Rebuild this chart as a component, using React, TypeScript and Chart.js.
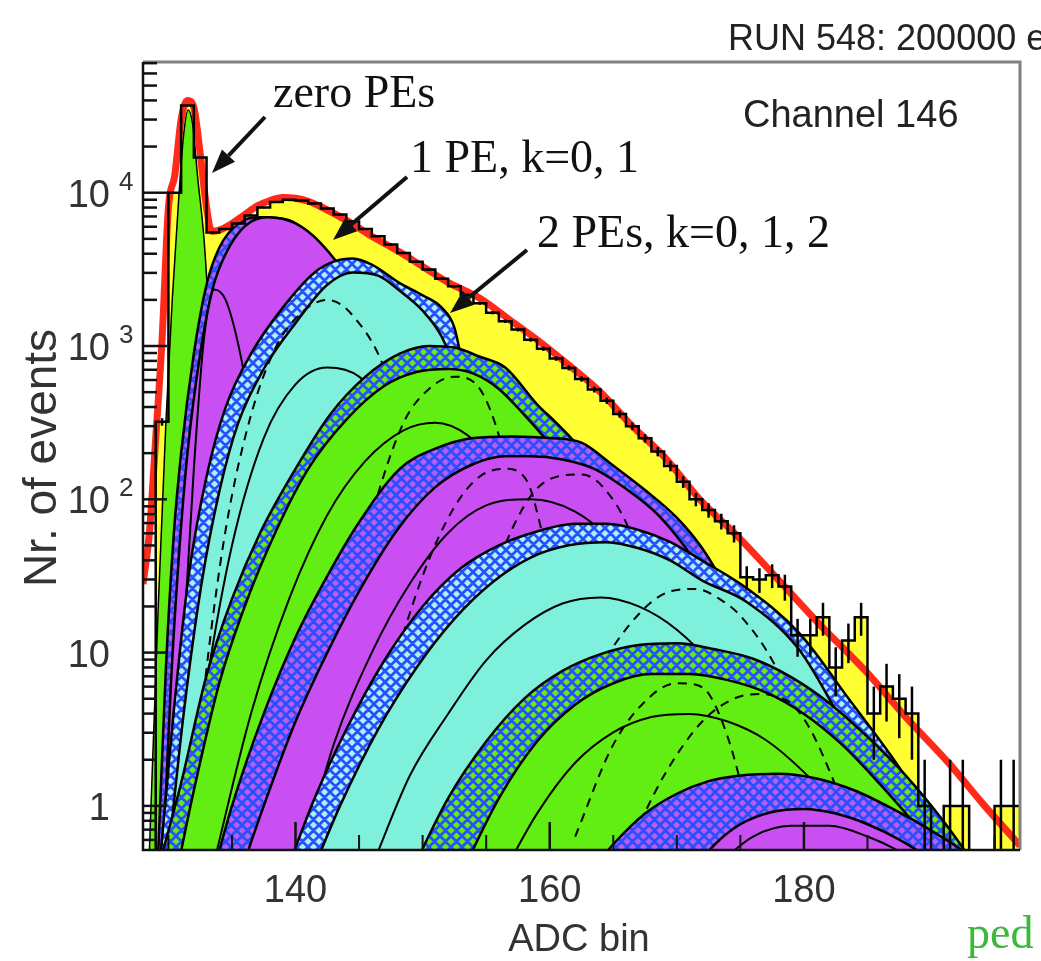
import React, { useEffect, useRef } from 'react';
import { Chart, registerables } from 'chart.js';

Chart.register(...registerables);

const SANS = '"Liberation Sans", Arial, Helvetica, sans-serif';
const SERIF = '"Liberation Serif", "Times New Roman", Times, serif';

// ---------------- axes ----------------
const X_MIN = 128;
const X_MAX = 197;
const Y_MIN = 0.5155;
const Y_MAX = 71240;
const xTickValues = [140, 160, 180];
const xMinorTicks = [130, 135, 145, 150, 155, 165, 170, 175, 185, 190, 195];
const yDecades = [1, 10, 100, 1000, 10000];

// ---------------- measured histogram (bins 128 ... 196) ----------------
const binLow = 128;
const binCounts = [
  0, 320, 10000, 37000, 17000, 5500, 5800, 6300, 7100, 8000,
  8700, 9000, 8900, 8500, 7900, 7200, 6500, 5800, 5200, 4600,
  4050, 3550, 3150, 2750, 2450, 2150, 1900, 1650, 1450, 1280,
  1100, 960, 830, 720, 610, 520, 440, 360, 300, 250,
  205, 165, 130, 100, 85, 72, 60, 31, 30, 32,
  27, 13, 13, 17, 8, 12, 17, 4, 6, 5,
  4, 1, 0, 1, 1, 0, 0, 1, 1,
];

// ---------------- total fit (red) ----------------
const fitX = [128.0, 128.5, 129.0, 129.5, 130.0, 130.5, 131.0, 131.5, 132.0, 132.5, 133.0, 133.4, 134.0, 135.0, 136.0, 137.0, 138.0, 139.0, 140.0, 141.0, 142.0, 144.0, 146.0, 148.2, 150.0, 152.0, 154.5, 157.0, 159.0, 161.3, 164.0, 166.5, 169.0, 171.8, 175.0, 178.3, 181.0, 184.9, 188.0, 191.4, 194.0, 197.0];
const fitY = [28, 60, 250, 1100, 8000, 13000, 30000, 40000, 36000, 18000, 8000, 5600, 5700, 6300, 7200, 8200, 8900, 9300, 9200, 8800, 8100, 6600, 5200, 4100, 3300, 2600, 2050, 1450, 1100, 775, 500, 300, 190, 100, 55, 28, 16, 7.5, 3.8, 1.9, 1.05, 0.55];

// ---------------- pedestal (zero PEs) ----------------
const pedX = [128.5, 129.2, 129.8, 130.3, 130.8, 131.2, 131.55, 131.9, 132.3, 132.8, 133.1, 133.5, 134.0, 134.6, 135.2];
const pedY = [0.5, 20, 316, 2000, 8900, 24000, 34700, 28200, 12600, 5000, 2000, 300, 30, 1, 0.3];

// ---------------- 1 PE ----------------
const m1BandX = [129.2, 129.8, 130.4, 131.0, 132.0, 133.0, 134.0, 135.5, 137.3, 139.5, 141.5, 143.5, 145.5, 147.5, 149.5, 152.0, 155.0];
const m1BandY = [0.5, 7.9, 56, 200, 891, 2510, 4370, 6310, 6920, 6610, 5010, 3160, 1410, 447, 100, 10, 0.4];
const m1FillX = [129.6, 130.2, 130.8, 131.5, 132.5, 133.5, 134.5, 136.0, 137.8, 140.0, 142.0, 144.0, 146.0, 148.0, 150.0, 152.5, 155.5];
const m1FillY = [0.5, 6.3, 40, 200, 891, 2400, 3980, 6030, 6920, 6310, 4680, 2820, 1200, 355, 79, 7.9, 0.4];
const m1ArcX = [131.0, 132.0, 132.8, 133.6, 134.5, 135.6, 136.8, 138.0, 139.5];
const m1ArcY = [6.3, 158, 1120, 2340, 2000, 933, 251, 40, 2.5];

// ---------------- 2 PE ----------------
const c1BandX = [129.3, 130.4, 131.6, 133.0, 134.5, 136.5, 139.0, 141.5, 143.0, 144.5, 146.0, 148.2, 150.0, 151.5, 152.5, 153.2, 154.2, 155.5, 157.5, 160.0, 162.5];
const c1BandY = [0.4, 4, 32, 141, 398, 891, 1780, 3020, 3550, 3720, 3390, 2570, 2140, 1780, 1320, 708, 282, 89, 15.8, 2, 0.25];
const c1FillX = [129.9, 131.2, 132.6, 134.0, 135.5, 137.5, 140.0, 142.5, 144.5, 146.5, 148.2, 150.0, 151.5, 152.5, 153.5, 155.0, 157.0, 159.5, 162.0];
const c1FillY = [0.4, 4, 28, 112, 316, 708, 1410, 2510, 3020, 2880, 2290, 1700, 1150, 708, 282, 79, 15.8, 2, 0.25];
const c1ArcX = [131.0, 133.0, 135.0, 137.5, 140.0, 142.5, 145.0, 147.5, 150.0, 152.5, 155.0];
const c1ArcY = [0.4, 6.3, 50, 251, 562, 724, 631, 355, 126, 25, 3.2];
const c1DashX = [131.5, 133.0, 134.5, 136.5, 138.5, 140.5, 142.5, 144.5, 147.2, 149.8, 151.5, 153.0];
const c1DashY = [0.5, 7.9, 63, 355, 1000, 1660, 2000, 1580, 631, 79, 12.6, 2];

// ---------------- 3 PE ----------------
const g1BandX = [129.4, 131.0, 133.0, 135.0, 137.2, 140.0, 142.7, 145.5, 148.2, 150.5, 152.5, 154.5, 156.5, 159.0, 160.5, 162.0, 163.5, 165.0, 167.0, 169.0, 171.5, 174.0, 176.5];
const g1BandY = [0.45, 1.41, 7.1, 22.4, 60, 158, 355, 631, 891, 1000, 977, 851, 724, 417, 316, 234, 158, 89, 40, 15.8, 4, 0.8, 0.25];
const g1FillX = [130.5, 132.0, 134.0, 136.0, 138.5, 141.0, 144.0, 147.0, 149.5, 152.0, 154.0, 156.0, 158.0, 160.0, 162.0, 164.0, 166.0, 168.0, 170.5, 173.0, 176.0];
const g1FillY = [0.32, 1.26, 6.3, 20, 63, 158, 331, 550, 676, 708, 661, 525, 355, 229, 138, 72, 31.6, 12.6, 3.16, 0.8, 0.14];
const g1ArcX = [133.5, 136.5, 139.5, 142.5, 145.5, 148.5, 151.0, 153.5, 156.0, 158.5, 161.0, 163.5, 166.0];
const g1ArcY = [0.4, 4, 22.4, 79, 178, 282, 316, 263, 158, 70.8, 20, 4, 0.63];
const g1DashX = [140, 143, 146, 148.5, 150.5, 152.5, 154.5, 156.1, 158, 160, 162];
const g1DashY = [0.63, 7.9, 79, 316, 525, 631, 525, 245, 50, 6.3, 0.63];

// ---------------- 4 PE ----------------
const m2BandX = [133.0, 135.0, 137.5, 140.0, 142.5, 145.0, 148.2, 151.0, 154.0, 157.0, 160.0, 162.5, 165.0, 167.5, 170.0, 172.0, 174.0, 176.0, 178.5, 181.0, 183.0];
const m2BandY = [0.25, 1, 4, 12.6, 31.6, 70.8, 158, 214, 251, 257, 251, 234, 166, 115, 75.9, 47.9, 25.1, 11.2, 3.55, 0.89, 0.32];
const m2FillX = [135.0, 137.5, 140.0, 142.5, 145.0, 148.0, 151.0, 154.0, 156.5, 158.5, 161.0, 163.5, 166.0, 168.5, 171.0, 173.5, 176.0, 179.0, 182.0];
const m2FillY = [0.25, 1, 3.55, 10, 25.1, 63.1, 120, 170, 191, 191, 182, 158, 117, 79.4, 44.7, 22.4, 8.91, 2.24, 0.45];
const m2ArcX = [140, 143, 146, 149, 152, 155, 158.5, 162, 165, 168, 171, 174];
const m2ArcY = [0.32, 2.51, 10, 28.2, 60.3, 91.2, 100, 83.2, 52.5, 25.1, 8.91, 2];
const m2DashAX = [144, 147, 150, 152.5, 154.5, 156.5, 158.2, 159.5, 161, 163, 165];
const m2DashAY = [0.5, 5, 31.6, 89.1, 141, 158, 132, 56.2, 15.8, 2.51, 0.4];
const m2DashBX = [150, 153, 156, 158.5, 160.5, 162.5, 164.2, 166.5, 168.5, 170.5, 172.5];
const m2DashBY = [0.5, 6.3, 39.8, 105, 140, 145, 120, 56.2, 14.1, 2.51, 0.4];

// ---------------- 5 PE ----------------
const c2BandX = [139.0, 141.5, 144.0, 147.0, 150.0, 153.0, 156.0, 159.0, 162.0, 164.5, 167.0, 169.5, 172.0, 175.5, 179.6, 183.6, 187.5, 191.0, 194.0];
const c2BandY = [0.32, 1.12, 3.16, 8.91, 20, 35.5, 50.1, 61.7, 69.2, 69.2, 63.1, 52.5, 39.8, 26.3, 13.5, 4.9, 1.78, 0.63, 0.25];
const c2FillX = [141.0, 143.5, 146.5, 149.5, 152.5, 155.5, 158.5, 161.5, 164.5, 167.0, 169.5, 172.0, 175.5, 179.6, 183.0, 186.0, 189.0];
const c2FillY = [0.32, 1, 3.16, 7.94, 16.6, 28.8, 41.7, 50.1, 52.5, 47.9, 39.8, 29.5, 21.4, 10.5, 3.55, 1.32, 0.45];
const c2ArcX = [146, 149, 152, 155, 158, 161, 164, 167, 170, 173, 176, 179];
const c2ArcY = [0.4, 1.58, 3.98, 8.91, 15.1, 20.9, 22.9, 20, 14.1, 7.94, 3.55, 1.26];
const c2DashX = [158, 161, 164, 167, 169.5, 171.5, 173.5, 175.1, 177.8, 180, 182];
const c2DashY = [0.4, 2.24, 7.94, 17.8, 25.1, 26, 22, 17, 8, 2.82, 0.79];

// ---------------- 6 PE ----------------
const g2BandX = [149.0, 152.0, 155.0, 158.0, 161.0, 164.0, 167.0, 170.0, 173.0, 176.0, 179.0, 182.0, 185.0, 188.0, 191.0, 194.0];
const g2BandY = [0.355, 1.12, 2.63, 5.01, 7.59, 9.77, 11.2, 11.5, 10.5, 9.12, 6.92, 4.68, 2.82, 1.58, 0.79, 0.355];
const g2FillX = [153.0, 156.0, 159.0, 162.0, 165.0, 168.0, 171.0, 174.0, 177.0, 180.0, 183.0, 186.0, 189.0, 192.0, 195.0];
const g2FillY = [0.355, 1.12, 2.63, 4.57, 6.31, 7.24, 7.24, 6.61, 5.5, 3.98, 2.51, 1.38, 0.71, 0.32, 0.126];
const g2ArcX = [156, 159, 162, 165, 168, 171, 174, 177, 180, 183, 186];
const g2ArcY = [0.32, 0.89, 1.91, 3.02, 3.8, 3.98, 3.55, 2.69, 1.66, 0.89, 0.4];
const g2DashAX = [166, 169, 172, 174.5, 176.5, 178, 179.1, 180.5, 182.2, 184];
const g2DashAY = [0.5, 1.58, 3.55, 5.01, 5.37, 5.13, 4.57, 3.16, 1.55, 0.63];
const g2DashBX = [162, 165, 168, 170, 171.5, 172.6, 174, 174.9, 176.5];
const g2DashBY = [0.63, 2.51, 5.25, 6.31, 6.17, 5.25, 2.82, 1.55, 0.4];

// ---------------- 7 PE ----------------
const m3BandX = [163.0, 165.0, 167.5, 170.0, 172.5, 175.0, 178.0, 181.0, 184.0, 187.0, 190.0, 193.0, 196.0];
const m3BandY = [0.355, 0.562, 0.891, 1.2, 1.45, 1.58, 1.62, 1.51, 1.26, 0.955, 0.692, 0.479, 0.316];
const m3FillX = [171.0, 173.0, 175.0, 177.5, 180.0, 182.5, 185.0, 187.5, 190.0, 192.5];
const m3FillY = [0.355, 0.562, 0.759, 0.912, 0.955, 0.891, 0.759, 0.603, 0.447, 0.316];
const m3ArcX = [173, 176, 179, 182, 185, 188, 191];
const m3ArcY = [0.4, 0.631, 0.741, 0.741, 0.631, 0.479, 0.316];

// ---------------- colours ----------------
const MAGENTA = '#c94ff2';
const CYAN = '#7ff0dc';
const GREEN = '#62ee12';
const YELLOW = '#ffff33';
const RED = '#ff2a1a';
const HATCH = '#2a4fff';

function makeHatch(bg: string, fg: string): CanvasPattern | string {
  const s = 11;
  const c = document.createElement('canvas');
  c.width = s;
  c.height = s;
  const g = c.getContext('2d');
  if (!g) return bg;
  g.fillStyle = bg;
  g.fillRect(0, 0, s, s);
  g.strokeStyle = fg;
  g.lineWidth = 2.8;
  g.beginPath();
  for (let k = -1; k <= 1; k++) {
    g.moveTo(-2 + k * s, -2);
    g.lineTo(s + 2 + k * s, s + 2);
    g.moveTo(-2 + k * s, s + 2);
    g.lineTo(s + 2 + k * s, -2);
  }
  g.stroke();
  return g.createPattern(c, 'repeat') || bg;
}

function pts(xs: number[], ys: number[]) {
  return xs.map((x, i) => ({ x, y: ys[i] }));
}

function area(xs: number[], ys: number[], bg: any, bw = 2.5) {
  return {
    data: pts(xs, ys),
    fill: 'start',
    backgroundColor: bg,
    borderColor: '#000',
    borderWidth: bw,
    cubicInterpolationMode: 'monotone',
    pointRadius: 0,
    clip: 0,
  };
}

function curve(xs: number[], ys: number[], dashed = false, color = '#000', width = 2) {
  return {
    data: pts(xs, ys),
    fill: false,
    borderColor: color,
    borderWidth: width,
    borderDash: dashed ? [9, 7] : [],
    cubicInterpolationMode: 'monotone',
    pointRadius: 0,
    clip: 0,
  };
}

function drawArrow(ctx: CanvasRenderingContext2D, x1: number, y1: number, x2: number, y2: number) {
  const ang = Math.atan2(y2 - y1, x2 - x1);
  const hl = 24;
  const hw = 9;
  const bx = x2 - hl * Math.cos(ang);
  const by = y2 - hl * Math.sin(ang);
  ctx.strokeStyle = '#111';
  ctx.fillStyle = '#111';
  ctx.lineWidth = 4;
  ctx.beginPath();
  ctx.moveTo(x1, y1);
  ctx.lineTo(bx, by);
  ctx.stroke();
  ctx.beginPath();
  ctx.moveTo(x2, y2);
  ctx.lineTo(bx + hw * Math.sin(ang), by - hw * Math.cos(ang));
  ctx.lineTo(bx - hw * Math.sin(ang), by + hw * Math.cos(ang));
  ctx.closePath();
  ctx.fill();
}

const decorPlugin = {
  id: 'decor',
  afterDatasetsDraw(chart: any) {
    const { ctx, chartArea: a } = chart;
    const xs = chart.scales.x;
    const ys = chart.scales.y;
    ctx.save();
    ctx.beginPath();
    ctx.rect(a.left, a.top, a.right - a.left, a.bottom - a.top);
    ctx.clip();
    ctx.strokeStyle = '#000';
    ctx.lineWidth = 2.5;
    binCounts.forEach((n, i) => {
      if (n < 1) return;
      const s = Math.sqrt(n);
      const px = xs.getPixelForValue(binLow + i + 0.5);
      const lo = n - s > 0 ? n - s : 0.01;
      ctx.beginPath();
      ctx.moveTo(px, ys.getPixelForValue(lo));
      ctx.lineTo(px, ys.getPixelForValue(n + s));
      ctx.stroke();
    });
    ctx.restore();
  },
  afterDraw(chart: any) {
    const { ctx, chartArea: a } = chart;
    const xs = chart.scales.x;
    const ys = chart.scales.y;
    ctx.save();
    // frame
    ctx.strokeStyle = '#808080';
    ctx.lineWidth = 3;
    ctx.beginPath();
    ctx.moveTo(a.left, a.top);
    ctx.lineTo(a.right, a.top);
    ctx.lineTo(a.right, a.bottom);
    ctx.stroke();
    ctx.strokeStyle = '#111';
    ctx.lineWidth = 2.5;
    ctx.beginPath();
    ctx.moveTo(a.left, a.top);
    ctx.lineTo(a.left, a.bottom);
    ctx.lineTo(a.right, a.bottom);
    ctx.stroke();
    // y tick marks
    ctx.lineWidth = 2.5;
    for (let e = -1; e <= 5; e++) {
      for (let m = 1; m <= 9; m++) {
        const v = m * Math.pow(10, e);
        if (v < Y_MIN || v > Y_MAX) continue;
        const py = ys.getPixelForValue(v);
        const len = m === 1 ? 24 : 14;
        ctx.beginPath();
        ctx.moveTo(a.left, py);
        ctx.lineTo(a.left + len, py);
        ctx.stroke();
      }
    }
    // x tick marks
    xTickValues.forEach((v) => {
      const px = xs.getPixelForValue(v);
      ctx.beginPath();
      ctx.moveTo(px, a.bottom);
      ctx.lineTo(px, a.bottom - 28);
      ctx.stroke();
    });
    ctx.lineWidth = 2;
    xMinorTicks.forEach((v) => {
      const px = xs.getPixelForValue(v);
      ctx.beginPath();
      ctx.moveTo(px, a.bottom);
      ctx.lineTo(px, a.bottom - 15);
      ctx.stroke();
    });
    // y labels
    ctx.fillStyle = '#333';
    yDecades.forEach((v) => {
      const py = ys.getPixelForValue(v);
      const e = Math.round(Math.log10(v));
      ctx.font = `38px ${SANS}`;
      ctx.textAlign = 'right';
      ctx.textBaseline = 'alphabetic';
      ctx.fillText(e === 0 ? '1' : '10', 110, py + 14);
      if (e >= 2) {
        ctx.font = `26px ${SANS}`;
        ctx.textAlign = 'left';
        ctx.fillText(String(e), 119, py - 3);
      }
    });
    // axis titles
    ctx.font = `38px ${SANS}`;
    ctx.textAlign = 'center';
    ctx.fillText('ADC bin', 579, 951);
    ctx.save();
    ctx.translate(56, 458);
    ctx.rotate(-Math.PI / 2);
    ctx.font = `46px ${SANS}`;
    ctx.fillText('Nr. of events', 0, 0);
    ctx.restore();
    // header texts
    ctx.textAlign = 'left';
    ctx.fillStyle = '#222';
    ctx.font = `36px ${SANS}`;
    ctx.fillText('RUN 548: 200000 events', 728, 50);
    ctx.font = `38px ${SANS}`;
    ctx.fillText('Channel 146', 743, 127);
    // annotations
    ctx.fillStyle = '#111';
    ctx.font = `46px ${SERIF}`;
    ctx.fillText('zero PEs', 273, 107);
    ctx.fillText('1 PE, k=0, 1', 410, 172);
    ctx.fillText('2 PEs, k=0, 1, 2', 537, 247);
    ctx.fillStyle = '#3db83d';
    ctx.fillText('ped', 967, 948);
    drawArrow(ctx, 265, 117, 212, 173);
    drawArrow(ctx, 407, 177, 333, 240);
    drawArrow(ctx, 527, 250, 450, 313);
    ctx.restore();
  },
};

export default function App() {
  const ref = useRef<HTMLCanvasElement | null>(null);

  useEffect(() => {
    if (!ref.current) return;
    const hatchCyan = makeHatch('#aaf2f6', HATCH);
    const hatchGreen = makeHatch(GREEN, HATCH);
    const hatchMagenta = makeHatch('#b85cf4', HATCH);

    const histPts = binCounts.map((n, i) => ({ x: binLow + i, y: n > 0 ? n : 0.02 }));
    histPts.push({ x: binLow + binCounts.length, y: binCounts[binCounts.length - 1] });

    const layers: any[] = [
      { data: histPts, stepped: true, fill: 'start', backgroundColor: YELLOW, borderWidth: 0, borderColor: 'rgba(0,0,0,0)', pointRadius: 0, clip: 0 },
      area(pedX, pedY, GREEN, 1.5),
      area(m1BandX, m1BandY, hatchMagenta),
      area(m1FillX, m1FillY, MAGENTA),
      curve(m1ArcX, m1ArcY),
      area(c1BandX, c1BandY, hatchCyan),
      area(c1FillX, c1FillY, CYAN),
      curve(c1ArcX, c1ArcY),
      curve(c1DashX, c1DashY, true),
      area(g1BandX, g1BandY, hatchGreen),
      area(g1FillX, g1FillY, GREEN),
      curve(g1ArcX, g1ArcY),
      curve(g1DashX, g1DashY, true),
      area(m2BandX, m2BandY, hatchMagenta),
      area(m2FillX, m2FillY, MAGENTA),
      curve(m2ArcX, m2ArcY),
      curve(m2DashAX, m2DashAY, true),
      curve(m2DashBX, m2DashBY, true),
      area(c2BandX, c2BandY, hatchCyan),
      area(c2FillX, c2FillY, CYAN),
      curve(c2ArcX, c2ArcY),
      curve(c2DashX, c2DashY, true),
      area(g2BandX, g2BandY, hatchGreen),
      area(g2FillX, g2FillY, GREEN),
      curve(g2ArcX, g2ArcY),
      curve(g2DashAX, g2DashAY, true),
      curve(g2DashBX, g2DashBY, true),
      area(m3BandX, m3BandY, hatchMagenta),
      area(m3FillX, m3FillY, MAGENTA),
      curve(m3ArcX, m3ArcY),
      curve(fitX, fitY, false, RED, 7),
      { data: histPts, stepped: true, fill: false, borderColor: '#000', borderWidth: 2.5, pointRadius: 0, clip: 0 },
    ];
    const n = layers.length;
    const datasets = layers.map((d, i) => ({ ...d, order: n - i }));

    const chart = new Chart(ref.current, {
      type: 'line',
      data: { datasets },
      options: {
        responsive: false,
        maintainAspectRatio: false,
        animation: false,
        devicePixelRatio: 1,
        layout: { padding: { left: 0, right: 21, top: 62, bottom: 0 } },
        plugins: {
          legend: { display: false },
          tooltip: { enabled: false },
        },
        elements: { point: { radius: 0 } },
        scales: {
          x: {
            type: 'linear',
            min: X_MIN,
            max: X_MAX,
            grid: { display: false },
            border: { display: false },
            afterFit: (s: any) => {
              s.height = 111;
            },
            afterBuildTicks: (s: any) => {
              s.ticks = xTickValues.map((v) => ({ value: v }));
            },
            ticks: {
              autoSkip: false,
              maxRotation: 0,
              padding: 11,
              color: '#333',
              font: { family: SANS, size: 38 },
              callback: (v: any) => String(v),
            },
          },
          y: {
            type: 'logarithmic',
            min: Y_MIN,
            max: Y_MAX,
            grid: { display: false },
            border: { display: false },
            ticks: { display: false },
            afterFit: (s: any) => {
              s.width = 143;
            },
          },
        },
      } as any,
      plugins: [decorPlugin],
    });
    return () => chart.destroy();
  }, []);

  return (
    <div style={{ position: 'absolute', left: 0, top: 0, width: 1041, height: 961 }}>
      <canvas ref={ref} width={1041} height={961} style={{ display: 'block', width: 1041, height: 961 }} />
    </div>
  );
}
